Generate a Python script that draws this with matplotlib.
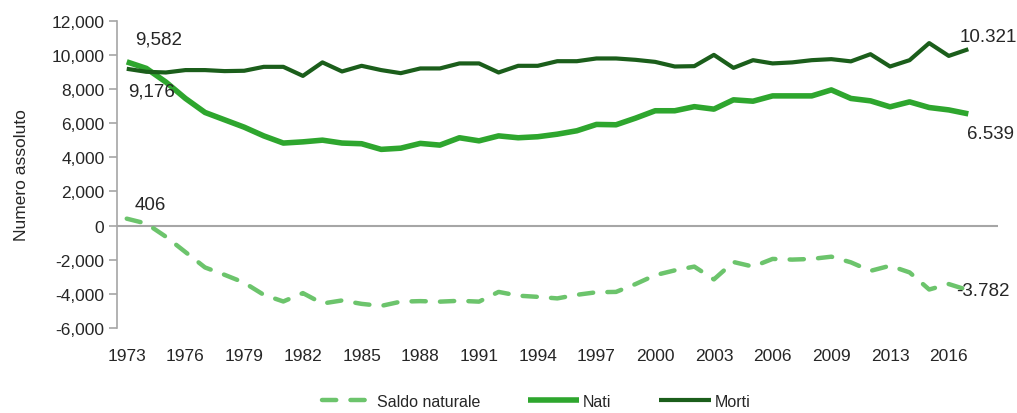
import matplotlib.pyplot as plt
from matplotlib.ticker import FuncFormatter

plt.rcParams['font.family'] = ['Liberation Sans', 'DejaVu Sans']

# years on the category axis (2012 is not in the series)
anni = [str(a) for a in range(1973, 2012)] + ['2013', '2014', '2015', '2016', '2017']

nati = [9582, 9200, 8400, 7440, 6620, 6190, 5760, 5250, 4830, 4900,
        5000, 4830, 4790, 4460, 4530, 4810, 4710, 5140, 4960, 5250,
        5140, 5200, 5350, 5550, 5920, 5900, 6290, 6720, 6720, 6960,
        6815, 7360, 7280, 7590, 7590, 7590, 7940, 7440, 7300, 6950,
        7240, 6910, 6770, 6539]

morti = [9176, 9000, 8960, 9100, 9100, 9040, 9060, 9290, 9290, 8760,
         9550, 9020, 9350, 9100, 8920, 9196, 9196, 9490, 9490, 8960,
         9350, 9350, 9620, 9620, 9780, 9780, 9700, 9580, 9310, 9330,
         9990, 9230, 9680, 9490, 9550, 9680, 9740, 9610, 10030, 9310,
         9680, 10680, 9930, 10321]

saldo = [406, 120, -650, -1550, -2450, -2880, -3340, -4050, -4440, -3950,
         -4560, -4380, -4580, -4700, -4450, -4420, -4450, -4400, -4450, -3880,
         -4100, -4170, -4260, -4050, -3900, -3880, -3420, -2900, -2620, -2400,
         -3150, -2130, -2400, -1950, -1990, -1950, -1820, -2150, -2650, -2350,
         -2740, -3740, -3420, -3782]

x = list(range(len(anni)))

fig = plt.figure(figsize=(10.17, 4.14), dpi=100)
ax = fig.add_axes([0.115, 0.205, 0.866, 0.743])

ax.plot(x, saldo, color='#6cc46c', lw=3.2, ls=(0, (3.2, 3.2)),
        dash_capstyle='round', label='Saldo naturale', zorder=3)
ax.plot(x, nati, color='#2ea62e', lw=4, solid_capstyle='butt', label='Nati', zorder=3)
ax.plot(x, morti, color='#1b5e1b', lw=3, solid_capstyle='butt', label='Morti', zorder=3)

ax.axhline(0, color='#a6a6a6', lw=1.5, zorder=1)

ax.set_xlim(-0.5, len(anni) + 0.5)
ax.set_ylim(-6000, 12000)
ax.set_yticks(range(-6000, 12001, 2000))
ax.yaxis.set_major_formatter(FuncFormatter(lambda v, p: f'{int(v):,}'))
ax.set_xticks(x[::3])
ax.set_xticklabels(anni[::3])

for s in ['top', 'right', 'bottom']:
    ax.spines[s].set_visible(False)
ax.spines['left'].set_color('#a6a6a6')
ax.spines['left'].set_linewidth(1.2)
ax.tick_params(axis='y', colors='#a6a6a6', length=6, width=1.2, labelsize=12.5,
               labelcolor='#262626', pad=3)
ax.tick_params(axis='x', length=0, labelsize=12.5, labelcolor='#262626', pad=14)
ax.set_ylabel('Numero assoluto', fontsize=12.5, color='#262626', labelpad=16)

# end labels
kw = dict(textcoords='offset points', fontsize=13.5, color='#262626')
ax.annotate('9,582', (x[0], nati[0]), xytext=(6, 10), ha='left', va='bottom', **kw)
ax.annotate('9,176', (x[0], morti[0]), xytext=(1, -10), ha='left', va='top', **kw)
ax.annotate('406', (x[0], saldo[0]), xytext=(6, 4), ha='left', va='bottom', **kw)
ax.annotate('10.321', (x[-1], morti[-1]), xytext=(-6, 3), ha='left', va='bottom', **kw)
ax.annotate('6.539', (x[-1], nati[-1]), xytext=(-1, -8), ha='left', va='top', **kw)
ax.annotate('-3.782', (x[-1], saldo[-1]), xytext=(-9, 0), ha='left', va='center', **kw)

fig.legend(loc='lower center', bbox_to_anchor=(0.527, -0.025), ncol=3, frameon=False,
           fontsize=11.5, handlelength=3.2, columnspacing=3.0, handletextpad=0.25,
           labelcolor='#262626')

fig.savefig('out.png', dpi=100)
